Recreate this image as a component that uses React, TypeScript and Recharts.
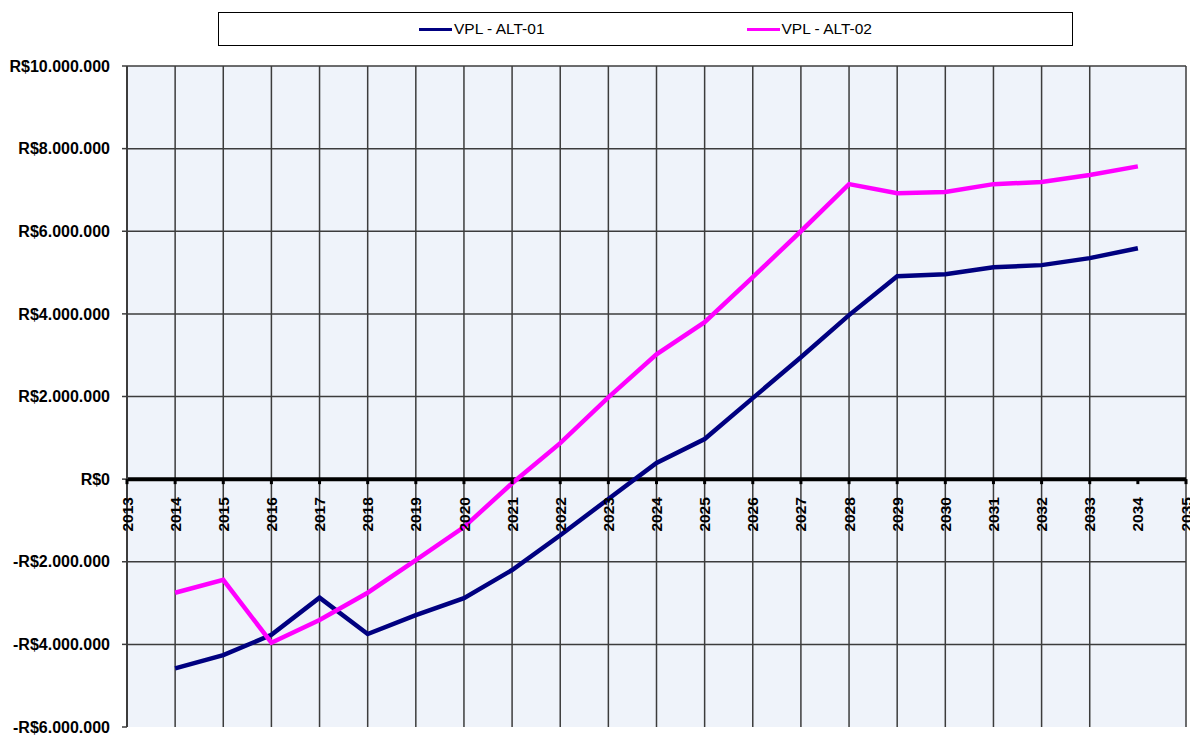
import {
  CartesianGrid,
  ComposedChart,
  Legend,
  Line,
  ReferenceLine,
  Scatter,
  XAxis,
  YAxis,
} from "recharts";

// anos com valores
const years = [
  2014, 2015, 2016, 2017, 2018, 2019, 2020, 2021, 2022, 2023, 2024,
  2025, 2026, 2027, 2028, 2029, 2030, 2031, 2032, 2033, 2034,
];

// eixo vai de 2013 a 2035
const axisYears = [
  2013, 2014, 2015, 2016, 2017, 2018, 2019, 2020, 2021, 2022, 2023, 2024,
  2025, 2026, 2027, 2028, 2029, 2030, 2031, 2032, 2033, 2034, 2035,
];

const vplAlt01 = [
  -4580000, -4260000, -3770000, -2870000, -3750000, -3290000, -2880000,
  -2200000, -1360000, -480000, 390000, 970000, 1960000, 2950000, 3970000,
  4910000, 4960000, 5130000, 5180000, 5350000, 5590000,
];

const vplAlt02 = [
  -2750000, -2440000, -3960000, -3410000, -2750000, -1960000, -1160000,
  -100000, 870000, 1980000, 3020000, 3800000, 4890000, 6000000, 7140000,
  6920000, 6950000, 7140000, 7190000, 7360000, 7570000,
];

const yTicks = [-6000000, -4000000, -2000000, 0, 2000000, 4000000, 6000000, 8000000, 10000000];
const gridValues = [-4000000, -2000000, 0, 2000000, 4000000, 6000000, 8000000, 10000000];

const data = years.map((year, i) => ({
  year,
  alt01: vplAlt01[i],
  alt02: vplAlt02[i],
}));

const axisPoints = axisYears.map((year) => ({ year, base: 0 }));

const FONT = "Arial, 'Liberation Sans', sans-serif";

function formatReal(v: number) {
  const abs = Math.abs(v)
    .toString()
    .replace(/\B(?=(\d{3})+(?!\d))/g, ".");
  return (v < 0 ? "-" : "") + "R$" + abs;
}

function YearTick(props: any) {
  const { cx, cy, payload } = props;
  if (cx == null || cy == null) return null;
  const ty = cy + 18;
  return (
    <g>
      <rect x={cx - 1.5} y={cy} width={3} height={5} fill="#000" />
      <text
        x={cx}
        y={ty}
        transform={`rotate(-90 ${cx} ${ty})`}
        textAnchor="end"
        dy="0.36em"
        fontFamily={FONT}
        fontWeight="bold"
        fontSize={15.5}
        fill="#000"
      >
        {payload.year}
      </text>
    </g>
  );
}

const legendItems = [
  { label: "VPL - ALT-01", color: "#000080" },
  { label: "VPL - ALT-02", color: "#ff00ff" },
];

function LegendBox() {
  return (
    <div
      style={{
        boxSizing: "border-box",
        width: 855,
        height: 34,
        border: "1px solid #000",
        background: "#fff",
        display: "flex",
        alignItems: "center",
        justifyContent: "center",
        gap: 202,
        fontFamily: FONT,
        fontSize: 15.5,
        color: "#000",
      }}
    >
      {legendItems.map((it) => (
        <div key={it.label} style={{ display: "flex", alignItems: "center" }}>
          <span style={{ display: "inline-block", width: 33, height: 3, background: it.color, marginRight: 2 }} />
          <span>{it.label}</span>
        </div>
      ))}
    </div>
  );
}

export default function App() {
  return (
    <div style={{ position: "absolute", left: 0, top: 0, background: "#fff" }}>
      <ComposedChart
        width={1190}
        height={735}
        data={data}
        margin={{ top: 66, right: 4, left: 0, bottom: 8 }}
      >
        <CartesianGrid
          stroke="#3c3c3c"
          strokeWidth={1.5}
          fill="#eff3fa"
          verticalValues={axisYears}
          horizontalValues={gridValues}
        />
        <XAxis
          dataKey="year"
          type="number"
          domain={[2013, 2035]}
          ticks={axisYears}
          tick={() => <g />}
          tickLine={false}
          axisLine={false}
          height={0}
        />
        <YAxis
          type="number"
          domain={[-6000000, 10000000]}
          ticks={yTicks}
          interval={0}
          width={127}
          tickFormatter={formatReal}
          tick={{ fontFamily: FONT, fontSize: 16, fontWeight: "bold", fill: "#000" }}
          tickSize={5}
          tickMargin={12}
          stroke="#3c3c3c"
          axisLine={{ stroke: "#3c3c3c", strokeWidth: 2 }}
          tickLine={{ stroke: "#3c3c3c", strokeWidth: 1.5 }}
        />
        <Legend
          verticalAlign="middle"
          content={() => <LegendBox />}
          wrapperStyle={{ top: 12, left: 218, width: 855, height: 34 }}
        />
        <ReferenceLine y={0} stroke="#000" strokeWidth={4} />
        <Line
          dataKey="alt01"
          name="VPL - ALT-01"
          type="linear"
          stroke="#000080"
          strokeWidth={4.5}
          dot={false}
          isAnimationActive={false}
        />
        <Line
          dataKey="alt02"
          name="VPL - ALT-02"
          type="linear"
          stroke="#ff00ff"
          strokeWidth={4.5}
          dot={false}
          isAnimationActive={false}
        />
        <Scatter
          data={axisPoints}
          dataKey="base"
          shape={<YearTick />}
          legendType="none"
          isAnimationActive={false}
        />
      </ComposedChart>
    </div>
  );
}
